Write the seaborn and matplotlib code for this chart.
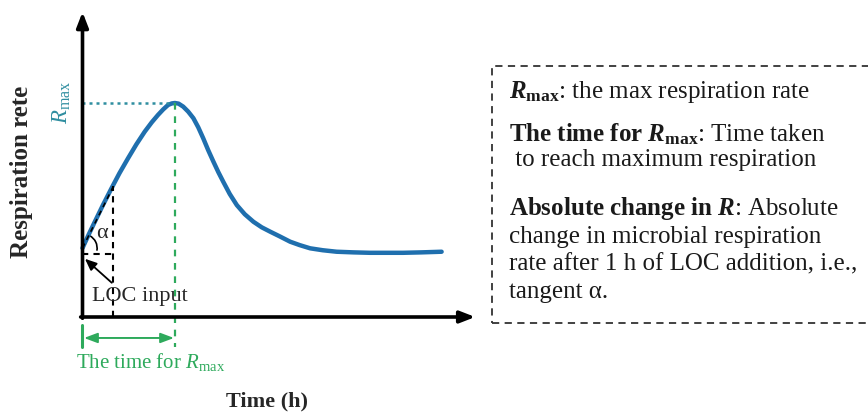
import numpy as np
import pandas as pd
import matplotlib
matplotlib.use("Agg")
import matplotlib.pyplot as plt
import matplotlib.patches as mpatches
import seaborn as sns

# ── Data (time in h, respiration in arbitrary units) ──
time_h = [0.0, 0.20, 0.40, 0.67, 0.94, 1.20, 1.48, 1.75, 2.02, 2.25, 2.45,
          2.62, 2.78, 2.90, 3.00, 3.12, 3.27, 3.43, 3.60, 3.76, 3.92, 4.08,
          4.25, 4.41, 4.57, 4.78, 5.01, 5.27, 5.55, 5.82, 6.09, 6.40, 6.74,
          7.05, 7.39, 7.80, 8.25, 8.80, 9.33, 10.41, 11.00, 11.66]
resp_rate = [3.22, 3.85, 4.45, 5.25, 6.01, 6.72, 7.42, 8.07, 8.66, 9.10, 9.44,
             9.70, 9.91, 9.98, 10.0, 9.97, 9.83, 9.60, 9.29, 8.86, 8.35, 7.80,
             7.26, 6.77, 6.32, 5.75, 5.23, 4.80, 4.45, 4.19, 3.99, 3.77, 3.52,
             3.36, 3.21, 3.12, 3.05, 3.02, 3.00, 3.00, 3.02, 3.05]

r_max = 10.0
t_rmax = 3.0
t_tangent = 1.0
r_start = 3.22
r_at_1h = 6.10

box_lines = [
    r"$\mathbfit{R}_{\mathbf{max}}$: the max respiration rate",
    r"$\mathbf{The\ time\ for\ }\mathbfit{R}_{\mathbf{max}}$: Time taken",
    r" to reach maximum respiration",
    r"$\mathbf{Absolute\ change\ in\ }\mathbfit{R}$: Absolute",
    r"change in microbial respiration",
    r"rate after 1 h of LOC addition, i.e.,",
    r"tangent α.",
]

df = pd.DataFrame({"time": time_h, "rate": resp_rate})

# ── Style ─────────────────────────────────────────────────────────────────────
sns.set_style("white")
plt.rcParams["font.family"] = ["Liberation Serif", "DejaVu Serif"]
plt.rcParams["mathtext.fontset"] = "custom"
plt.rcParams["mathtext.rm"] = "Liberation Serif"
plt.rcParams["mathtext.it"] = "Liberation Serif:italic"
plt.rcParams["mathtext.bf"] = "Liberation Serif:bold"
plt.rcParams["mathtext.bfit"] = "Liberation Serif:bold:italic"

BLUE = "#1f6fae"
TEAL = "#2f8ea0"
GREEN = "#2eaa5c"
W, H = 868, 417

fig = plt.figure(figsize=(W / 100, H / 100), dpi=100)
ax = fig.add_axes([0, 0, 1, 1])
# map data so that the plot origin sits where it does in the reference
px_per_h, px_per_r = 30.8, 21.4
x0, y0 = 82.5, 317
ax.set_xlim(-x0 / px_per_h, (W - x0) / px_per_h)
ax.set_ylim(-(H - y0) / px_per_r, y0 / px_per_r)
ax.axis("off")


def fx(px):
    return px / W


def fy(py):
    return 1 - py / H


# ── Axes arrows ───────────────────────────────────────────────────────────────
arrow_kw = dict(arrowstyle="-|>,head_length=0.9,head_width=0.35", color="black",
                lw=2.6, shrinkA=0, shrinkB=0)
ax.annotate("", xy=(0, 14.25), xytext=(0, -0.06), arrowprops=arrow_kw)
ax.annotate("", xy=(12.75, 0), xytext=(-0.06, 0), arrowprops=arrow_kw)

# ── Curve ─────────────────────────────────────────────────────────────────────
sns.lineplot(data=df, x="time", y="rate", ax=ax, color=BLUE, lw=3.2,
             sort=False, legend=False, solid_joinstyle="round",
             solid_capstyle="round")

# ── R_max guides ──────────────────────────────────────────────────────────────
ax.plot([0, t_rmax], [r_max, r_max], color=TEAL, lw=1.8, ls=(0, (1.2, 1.6)))
ax.plot([t_rmax, t_rmax], [r_max, -1.42], color=GREEN, lw=1.6, ls=(0, (3, 3)))

# ── Tangent α guides ──────────────────────────────────────────────────────────
ax.plot([t_tangent, t_tangent], [0, r_at_1h], color="black", lw=1.5, ls=(0, (3, 2.5)))
ax.plot([0, t_tangent], [2.94, 2.94], color="black", lw=1.5, ls=(0, (3, 2.5)))
ax.plot([0, t_tangent], [r_start, r_at_1h], color="black", lw=1.2, ls=(0, (3, 2.5)))
rad = 14
arc = mpatches.Arc((0.02, r_start), 2 * rad / px_per_h, 2 * rad / px_per_r,
                   theta1=-15, theta2=70, color="black", lw=1.2)
ax.add_patch(arc)
ax.text(fx(102), fy(233), "α", transform=ax.transAxes,
        fontsize=16, ha="center", va="center")
ax.annotate("", xy=(0.08, 2.72), xytext=(0.95, 1.6),
            arrowprops=dict(arrowstyle="-|>,head_length=0.7,head_width=0.3",
                            color="black", lw=1.3, shrinkA=0, shrinkB=0))
ax.text(fx(140), fy(296), "LOC input", transform=ax.transAxes, fontsize=16,
        ha="center", va="center")

# ── Time-for-R_max bracket ────────────────────────────────────────────────────
ax.plot([0, 0], [-0.37, -1.42], color=GREEN, lw=2.2)
ax.annotate("", xy=(t_rmax - 0.03, -0.98), xytext=(0.05, -0.98),
            arrowprops=dict(arrowstyle="<|-|>,head_length=0.8,head_width=0.3",
                            color=GREEN, lw=1.4, shrinkA=0, shrinkB=0))
ax.text(fx(151), fy(362), r"The time for $\mathit{R}_{\mathrm{max}}$",
        transform=ax.transAxes, fontsize=15, color=GREEN, ha="center", va="center")

# ── Axis labels ───────────────────────────────────────────────────────────────
ax.text(fx(267), fy(401), "Time (h)", transform=ax.transAxes, fontsize=16,
        fontweight="bold", ha="center", va="center")
ax.text(fx(22), fy(172), "Respiration rete", transform=ax.transAxes, fontsize=18,
        fontweight="bold", rotation=90, ha="center", va="center")
ax.text(fx(62), fy(102), r"$\mathit{R}_{\mathrm{max}}$", transform=ax.transAxes,
        fontsize=16.5, color=TEAL, rotation=90, ha="center", va="center")

# ── Definition box ────────────────────────────────────────────────────────────
box = mpatches.Rectangle((fx(492), fy(323)), fx(880) - fx(492), fy(66) - fy(323),
                         transform=ax.transAxes, fill=False, ec="#333333",
                         lw=1.3, ls=(0, (4, 3)), clip_on=False)
ax.add_patch(box)
line_y = [92, 134, 160, 208, 237, 264, 292]
for txt, py in zip(box_lines, line_y):
    ax.text(fx(509), fy(py), txt, transform=ax.transAxes, fontsize=18,
            ha="left", va="center", color="#1a1a1a")

fig.savefig("out.png", dpi=100)
plt.close(fig)
